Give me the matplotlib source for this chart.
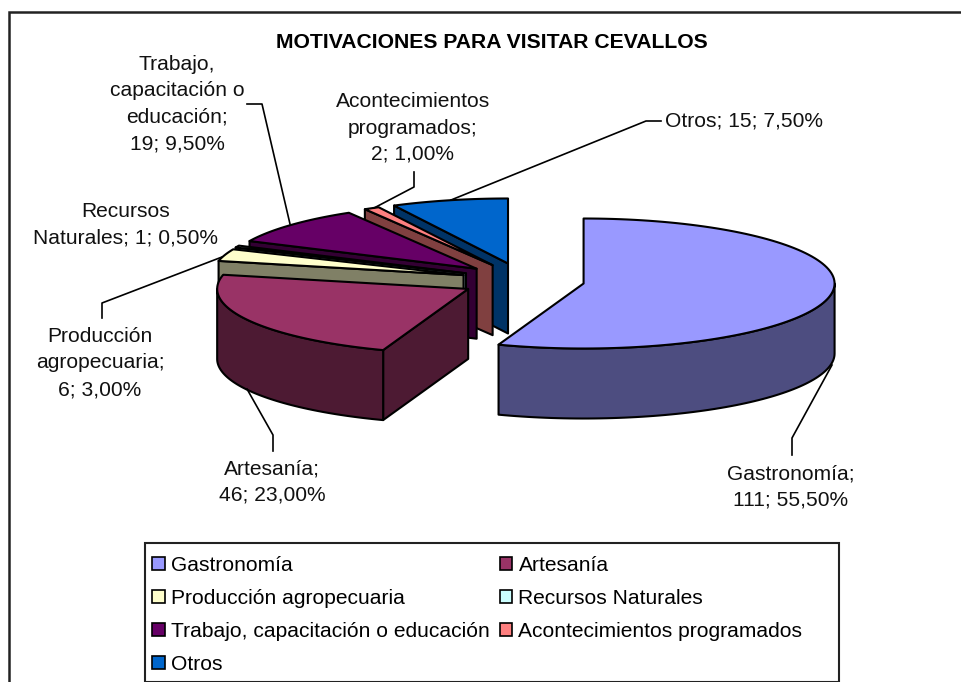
import matplotlib
matplotlib.use("Agg")
import matplotlib.pyplot as plt
from matplotlib.patches import Polygon, Patch, Rectangle
import numpy as np

plt.rcParams['font.family'] = ['Liberation Sans', 'DejaVu Sans']

categorias = ['Gastronomía', 'Artesanía', 'Producción agropecuaria', 'Recursos Naturales',
              'Trabajo, capacitación o educación', 'Acontecimientos programados', 'Otros']
valores = [111, 46, 6, 1, 19, 2, 15]
porcentajes = ['55,50%', '23,00%', '3,00%', '0,50%', '9,50%', '1,00%', '7,50%']
colores = ['#9999FF', '#993366', '#FFFFCC', '#CCFFFF', '#660066', '#FF8080', '#0066CC']
lados = ['#4D4D80', '#4D1A33', '#808066', '#668080', '#330033', '#804040', '#003366']

# geometria del pastel en pixeles de la imagen
cx, cy = 522.5, 280.5
rx, ry = 251, 65
ex, ey = 62, 17.5
alto = 70
lw = 1.5

fig = plt.figure(figsize=(9.62, 6.82), dpi=100)
ax = fig.add_axes([0, 0, 1, 1])
ax.set_xlim(0, 962)
ax.set_ylim(682, 0)
ax.axis('off')

# marco del grafico, sale por la derecha y por abajo
ax.add_patch(Rectangle((9.5, 11.5), 1000, 720, fc='white', ec='#222222', lw=1.8, zorder=0))

total = sum(valores)
angulos = np.cumsum([0] + valores) / total * 2 * np.pi


def rim(x0, y0, t):
    return x0 + rx * np.sin(t), y0 - ry * np.cos(t)


# de atras hacia adelante
z = 1
for i in [6, 5, 4, 3, 2, 1, 0]:
    a0, a1 = angulos[i], angulos[i + 1]
    m = (a0 + a1) / 2
    x0 = cx + ex * np.sin(m)
    y0 = cy - ey * np.cos(m)

    # cara radial visible
    if np.sin(a0) < -0.01:
        px, py = rim(x0, y0, a0)
        cara = [(x0, y0), (px, py), (px, py + alto), (x0, y0 + alto)]
        ax.add_patch(Polygon(cara, fc=lados[i], ec='black', lw=lw, joinstyle='round', zorder=z))
        z += 1

    # pared exterior, solo la parte de adelante
    b0, b1 = max(a0, np.pi / 2), min(a1, 3 * np.pi / 2)
    if b1 > b0:
        t = np.linspace(b0, b1, 80)
        px, py = rim(x0, y0, t)
        pared = np.r_[np.c_[px, py], np.c_[px, py + alto][::-1]]
        ax.add_patch(Polygon(pared, fc=lados[i], ec='black', lw=lw, joinstyle='round', zorder=z))
        z += 1

    # tapa
    t = np.linspace(a0, a1, 120)
    px, py = rim(x0, y0, t)
    tapa = np.r_[[(x0, y0)], np.c_[px, py]]
    ax.add_patch(Polygon(tapa, fc=colores[i], ec='black', lw=lw, joinstyle='round', zorder=z))
    z += 1

z = 50
# lineas guia
guias = [[(832, 365), (792, 438), (792, 455)],
         [(247, 389), (273, 435), (273, 451)],
         [(222, 257), (102, 303), (102, 318)],
         [(290, 224), (262, 104), (247, 104)],
         [(374, 208), (414, 187), (414, 172)],
         [(451, 200), (646, 121), (661, 121)]]
for g in guias:
    ax.plot(*zip(*g), color='black', lw=1.2, zorder=z)

ax.text(492, 42, 'MOTIVACIONES PARA VISITAR CEVALLOS', ha='center', va='center',
        fontsize=15.2, fontweight='bold', color='black')

fs = 15.15
etiquetas = [
    (791, 487, f'Gastronomía;\n{valores[0]}; {porcentajes[0]}'),
    (272, 482, f'Artesanía;\n{valores[1]}; {porcentajes[1]}'),
    (100, 363, f'Producción\nagropecuaria;\n{valores[2]}; {porcentajes[2]}'),
    (126, 225, f'Recursos\nNaturales; {valores[3]}; {porcentajes[3]}'),
    (177, 104, f'Trabajo,\ncapacitación o\neducación;\n{valores[4]}; {porcentajes[4]}'),
    (413, 128, f'Acontecimientos\nprogramados;\n{valores[5]}; {porcentajes[5]}'),
    (744, 121, f'Otros; {valores[6]}; {porcentajes[6]}'),
]
for x, y, s in etiquetas:
    ax.text(x, y, s, ha='center', va='center', fontsize=fs, color='#111111', linespacing=1.5, zorder=z)

# leyenda
ax.add_patch(Rectangle((145, 543), 694, 138.5, fc='white', ec='#222222', lw=1.5, zorder=55))
orden = [0, 2, 4, 6, 1, 3, 5]
handles = [Patch(fc=colores[i], ec='black', lw=1.2, label=categorias[i]) for i in orden]
leg = ax.legend(handles=handles, ncol=2, loc='lower left',
                bbox_to_anchor=(145 / 962, 1 / 682), bbox_transform=fig.transFigure,
                fontsize=fs, frameon=False,
                handlelength=0.6, handleheight=0.6, handletextpad=0.3,
                labelspacing=0.66, columnspacing=0.45, borderpad=0.35, borderaxespad=0)
leg.set_zorder(60)

fig.savefig('out.png', dpi=100)
